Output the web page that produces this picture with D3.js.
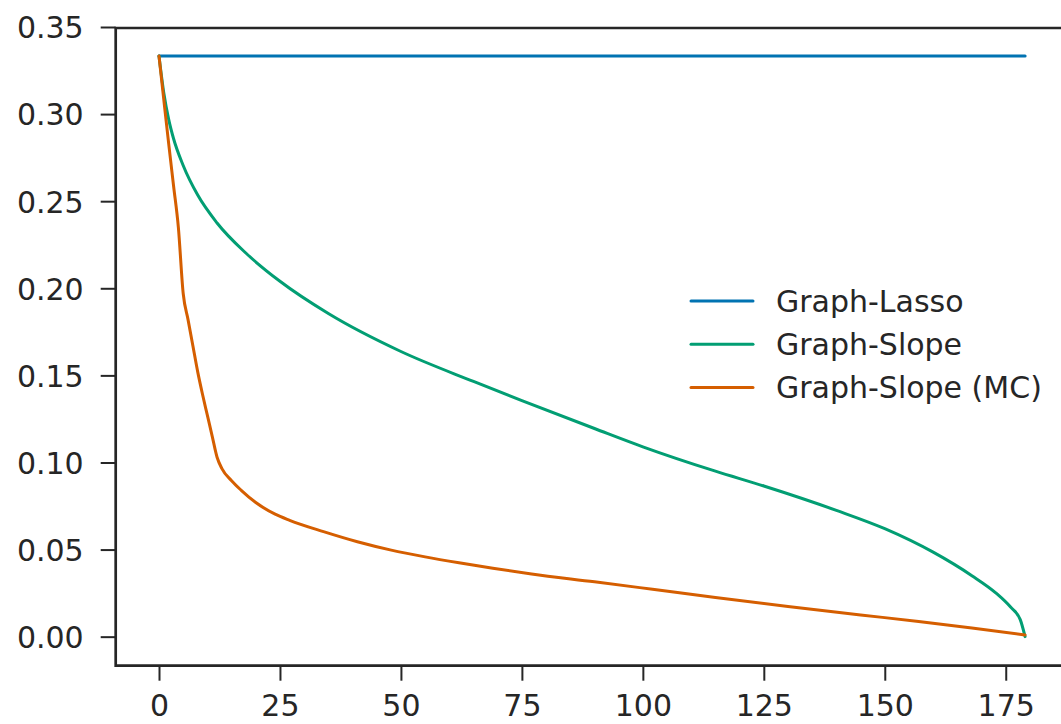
<!DOCTYPE html>
<html>
<head>
<meta charset="utf-8">
<script src="https://cdn.jsdelivr.net/npm/d3@7"></script>
<style>
  body { margin: 0; background: #fff; }
  svg { display: block; font-family: "DejaVu Sans", sans-serif; }
</style>
</head>
<body>
<div id="chart"></div>
<script>
// values
const lassoX = [0, 179];
const lassoY = [0.3333, 0.3333];

const slopeX = [0, 1, 2, 3, 5, 8, 12, 18, 25, 35, 50, 65, 75, 90, 100, 115, 125, 140, 150, 160, 168, 173, 176, 178, 179];
const slopeY = [0.3333, 0.312, 0.297, 0.286, 0.2705, 0.2535, 0.2375, 0.2201, 0.204, 0.1855, 0.1637, 0.1465, 0.1355, 0.1195, 0.109, 0.095, 0.0865, 0.0725, 0.062, 0.0485, 0.035, 0.025, 0.017, 0.0098, 0.0];

const mcX = [0, 1, 2, 3, 4, 5, 6, 7, 8, 9, 10, 11, 12, 13, 15, 17, 20, 24, 27, 34, 41, 48, 55, 62, 69, 77, 90, 102, 115, 130, 145, 157, 168, 179];
const mcY = [0.3333, 0.308, 0.283, 0.259, 0.235, 0.197, 0.182, 0.167, 0.152, 0.139, 0.127, 0.115, 0.103, 0.0965, 0.0895, 0.084, 0.077, 0.0703, 0.0668, 0.0603, 0.0545, 0.0497, 0.0458, 0.0424, 0.0393, 0.036, 0.0315, 0.0272, 0.0225, 0.0173, 0.0125, 0.0087, 0.005, 0.001];

const seriesNames = ["Graph-Lasso", "Graph-Slope", "Graph-Slope (MC)"];
const seriesColors = ["#0173b2", "#029e73", "#d55e00"];
const xTicks = [0, 25, 50, 75, 100, 125, 150, 175];
const yTicks = [0.00, 0.05, 0.10, 0.15, 0.20, 0.25, 0.30, 0.35];

const W = 1061, H = 724;
const ink = "#262626";

const svg = d3.select("#chart")
    .append("svg")
    .attr("width", W)
    .attr("height", H);

// matplotlib style 5% margins around the data
const x = d3.scaleLinear().domain([-8.95, 187.95]).range([115.7, 1068.4]);
const y = d3.scaleLinear().domain([-0.01667, 0.35]).range([665.7, 27]);

const series = [
    { name: seriesNames[0], color: seriesColors[0], pts: lassoX.map((d, i) => [d, lassoY[i]]) },
    { name: seriesNames[1], color: seriesColors[1], pts: slopeX.map((d, i) => [d, slopeY[i]]) },
    { name: seriesNames[2], color: seriesColors[2], pts: mcX.map((d, i) => [d, mcY[i]]) }
];

const line = d3.line()
    .x(d => x(d[0]))
    .y(d => y(d[1]))
    .curve(d3.curveMonotoneX);

svg.selectAll("path.series")
    .data(series)
    .join("path")
    .attr("class", "series")
    .attr("fill", "none")
    .attr("stroke", d => d.color)
    .attr("stroke-width", 3)
    .attr("stroke-linecap", "round")
    .attr("stroke-linejoin", "round")
    .attr("d", d => line(d.pts));

// axes
const xAxis = svg.append("g")
    .attr("transform", `translate(0, ${y.range()[0]})`)
    .call(d3.axisBottom(x).tickValues(xTicks).tickSize(15).tickPadding(17).tickFormat(d3.format("d")));
const yAxis = svg.append("g")
    .attr("transform", `translate(${x.range()[0]}, 0)`)
    .call(d3.axisLeft(y).tickValues(yTicks).tickSize(15).tickPadding(17).tickFormat(d3.format(".2f")));

[xAxis, yAxis].forEach(g => {
    g.select(".domain").remove();
    g.selectAll(".tick line").attr("stroke", ink).attr("stroke-width", 2);
    g.selectAll(".tick text").attr("fill", ink).style("font-size", "30px").style("font-family", "DejaVu Sans");
});
yAxis.selectAll(".tick text").attr("dy", "0.36em");
xAxis.selectAll(".tick text").attr("dy", "0.62em");

// spines: left, bottom, top (right one is off the picture)
svg.append("path")
    .attr("fill", "none")
    .attr("stroke", ink)
    .attr("stroke-width", 2.7)
    .attr("d", `M${W + 10},${y(0.35) + 1}H${x.range()[0]}V${y.range()[0]}H${W + 10}`);

// legend
const legend = svg.append("g").attr("transform", "translate(691, 301)");
const item = legend.selectAll("g")
    .data(series)
    .join("g")
    .attr("transform", (d, i) => `translate(0, ${i * 43.2})`);
item.append("line")
    .attr("x1", 0).attr("x2", 62)
    .attr("stroke", d => d.color)
    .attr("stroke-width", 3)
    .attr("stroke-linecap", "round");
item.append("text")
    .attr("x", 85)
    .attr("dy", "0.36em")
    .attr("fill", ink)
    .style("font-size", "30px")
    .text(d => d.name);
</script>
</body>
</html>
